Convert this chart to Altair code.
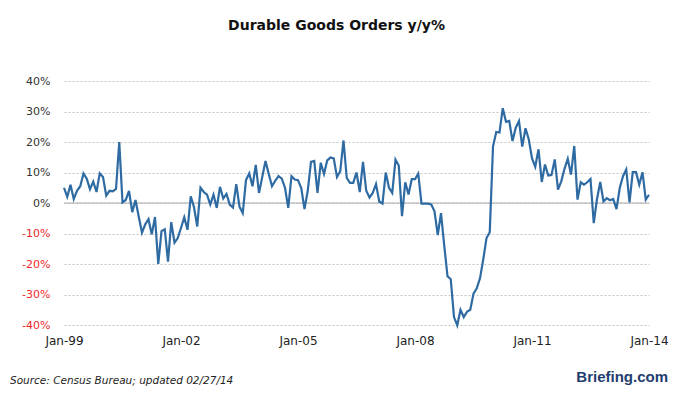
import altair as alt
import pandas as pd

# Monthly durable goods orders, y/y %, Jan-1999 .. Jan-2014
vals = [
    # 1999
    5, 2, 6, 1.3, 4, 5.5, 9.7, 8, 4.5, 7, 3.6, 9.7,
    # 2000
    8.5, 2.4, 4, 3.8, 4.6, 20, 0.2, 1, 4, -3, 1, -4.5,
    # 2001
    -9.7, -7, -5.3, -10.3, -4.6, -20, -9.2, -8.6, -19.2, -6.3, -13, -11.5,
    # 2002
    -8.2, -4.7, -8.8, 2.2, -1.4, -7.7, 5, 3.6, 2.7, -0.5, 2.7, -1.6,
    # 2003
    5.3, 1.5, 3.0, -0.5, -1.5, 6.2, -1.2, -3.3, 7.5, 9.7, 5.5, 12.5,
    # 2004
    3.3, 8.5, 13.8, 9.5, 5.5, 7.3, 8.8, 8.0, 5.0, -1.6, 8.8, 7.7,
    # 2005
    7.5, 4.9, -2.0, 4.0, 13.5, 13.8, 3.3, 13.2, 9.5, 14.0, 14.9, 14.6,
    # 2006
    8.5, 10.4, 20.5, 8.2, 6.6, 6.6, 10, 3.6, 13.5, 4, 1.8, 3.3,
    # 2007
    6.2, 0.5, -0.2, 10, 5.0, 3.3, 14.2, 12.3, -4.3, 6.8, 2.8, 7.8,
    # 2008
    7.8, 9.6, -0.2, -0.2, -0.2, -0.5, -2.7, -10.5, -3.3, -14, -24, -25,
    # 2009
    -37.4, -40.1, -35, -37.4, -35.7, -35, -29.7, -28, -24.7, -18.5, -11.5, -9.6,
    # 2010
    18.5, 23.3, 23.1, 31.1, 26.6, 26.9, 20.3, 24.7, 26.9, 18.5, 24.5, 20.9,
    # 2011
    14.6, 11.9, 17.6, 6.9, 12.6, 9, 9.2, 14.3, 4.4, 7.1, 11.2, 14.5,
    # 2012
    9.3, 18.7, 1.1, 6.8, 6, 6.8, 7.9, -6.6, 1.3, 6.9, 0.5, 1.6,
    # 2013
    0.9, 1.3, -2, 4.9, 8.8, 11, 0.2, 10.1, 10.1, 6, 10.1, 1.1,
    # 2014
    2.7,
]

tick_index = [0, 36, 72, 108, 144, 180]
tick_labels = ["Jan-99", "Jan-02", "Jan-05", "Jan-08", "Jan-11", "Jan-14"]
y_ticks = [-40, -30, -20, -10, 0, 10, 20, 30, 40]

title_text = "Durable Goods Orders y/y%"
source_text = "Source: Census Bureau; updated 02/27/14"
brand_text = "Briefing.com"

months = pd.date_range("1999-01-01", periods=len(vals), freq="MS").strftime("%Y-%m").tolist()
df = pd.DataFrame({"idx": list(range(len(vals))), "month": months, "value": vals})

label_expr = ""
for i, lab in zip(tick_index, tick_labels):
    label_expr += f"datum.value == {i} ? '{lab}' : "
label_expr += "''"

W, H = 585, 244

x_enc = alt.X(
    "idx:Q",
    scale=alt.Scale(domain=[0, 180], nice=False, zero=False),
    axis=alt.Axis(values=tick_index, labelExpr=label_expr, title=None, grid=False,
                  domain=False, ticks=False, labelPadding=10, labelFontSize=12,
                  labelColor="#222222", labelFont="DejaVu Sans", labelFlush=False,
                  labelOverlap=False, labelBound=False),
)
y_axis = alt.Axis(
    values=y_ticks, labelExpr="datum.value + '%'", title=None,
    grid=True, gridDash=[2, 2], gridColor="#c4c4c4", gridWidth=1,
    domain=False, ticks=False, labelPadding=14, labelFontSize=11,
    labelFont="DejaVu Sans", labelOverlap=False, labelFlush=False,
    labelColor={"condition": {"test": "datum.value < 0", "value": "#f0282a"},
                "value": "#333333"},
)
y_scale = alt.Scale(domain=[-40, 40], nice=False, zero=False)

line = alt.Chart(df).mark_line(color="#2f6ba3", strokeWidth=2.2).encode(
    x=x_enc, y=alt.Y("value:Q", scale=y_scale, axis=y_axis)
)

zero = alt.Chart(pd.DataFrame({"value": [0]})).mark_rule(color="#aaaaaa", strokeWidth=1).encode(
    y=alt.Y("value:Q", scale=y_scale, axis=y_axis)
)

source = alt.Chart(pd.DataFrame({"t": [source_text]})).mark_text(
    align="left", baseline="alphabetic", fontStyle="italic", fontSize=10.5,
    font="DejaVu Sans", color="#222222"
).encode(text="t:N", x=alt.value(-54), y=alt.value(303))

brand = alt.Chart(pd.DataFrame({"t": [brand_text]})).mark_text(
    align="right", baseline="alphabetic", fontWeight="bold", fontSize=15,
    font="Liberation Sans", color="#1f3d6e"
).encode(text="t:N", x=alt.value(604), y=alt.value(301))

chart = alt.layer(zero, line, source, brand).properties(
    width=W, height=H,
    autosize=alt.AutoSizeParams(type="none"),
    padding={"left": 56, "top": 73, "right": 23, "bottom": 63},
    title=alt.TitleParams(text=title_text, anchor="middle", frame="group", dx=-20,
                          offset=42, fontSize=14, font="DejaVu Sans",
                          fontWeight="bold", color="#111111"),
).configure_view(stroke=None)

chart.save("out.html", embed_options={"renderer": "svg", "actions": False})
